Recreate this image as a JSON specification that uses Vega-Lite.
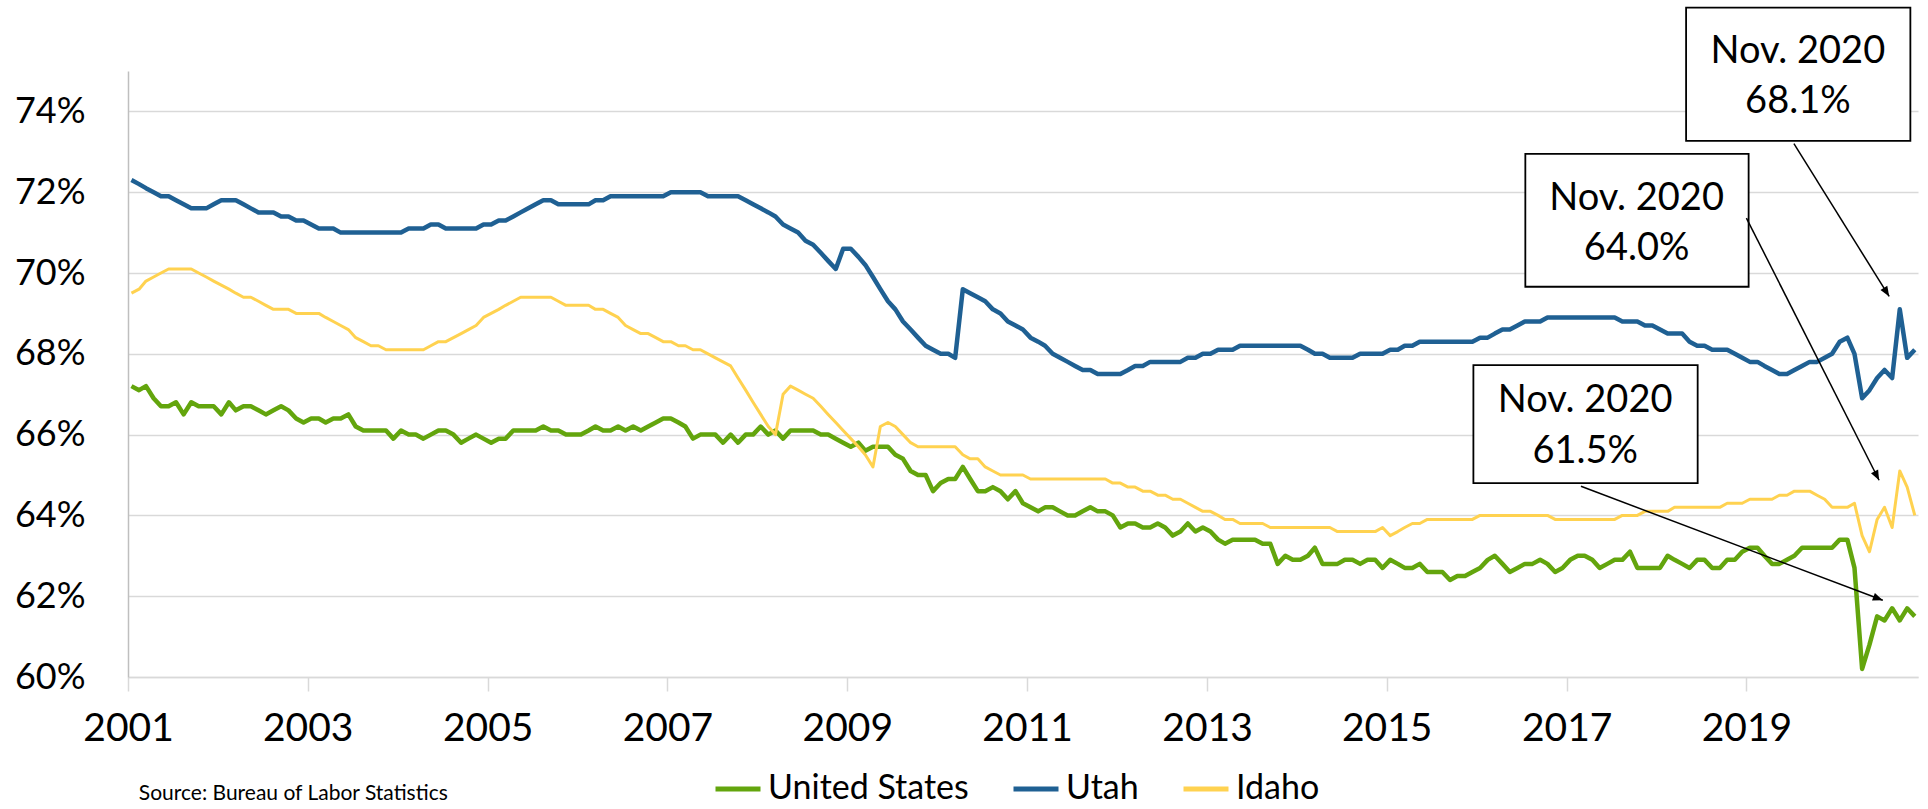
{
"$schema": "https://vega.github.io/schema/vega-lite/v6.json",
"width": 1790, "height": 606,
"autosize": {"type": "none"},
"padding": {"left": 128, "top": 71, "right": 10, "bottom": 132},
"background": "white",
"config": {"font": "Lato", "view": {"stroke": null}, "axis": {"labelFont": "Lato", "labelColor": "#000000"}, "legend": {"labelFont": "Lato"}},
"datasets": {
"recess": [{"d": "2001-03-15T00:00", "d2": "2001-11-16T00:00"}, {"d": "2007-11-13T00:00", "d2": "2009-06-14T00:00"}],
"boxes": [
 {"d": "2018-05-01T00:00", "d2": "2020-10-28T00:00", "v": 76.57, "v2": 73.27},
 {"d": "2016-07-17T00:00", "d2": "2019-01-10T00:00", "v": 72.95, "v2": 69.66},
 {"d": "2015-12-19T00:00", "d2": "2018-06-17T00:00", "v": 67.72, "v2": 64.80}],
"notes": [
 {"d": "2019-07-29T00:00", "v": 75.20, "t": "Nov. 2020"},
 {"d": "2019-07-29T00:00", "v": 73.96, "t": "68.1%"},
 {"d": "2017-10-12T00:00", "v": 71.56, "t": "Nov. 2020"},
 {"d": "2017-10-12T00:00", "v": 70.32, "t": "64.0%"},
 {"d": "2017-03-17T00:00", "v": 66.57, "t": "Nov. 2020"},
 {"d": "2017-03-17T00:00", "v": 65.29, "t": "61.5%"}],
"arrows": [
 {"id": "ut", "d": "2019-07-13T00:00", "v": 73.20, "d2": "2020-08-03T00:00", "v2": 69.42},
 {"id": "id", "d": "2019-01-01T00:00", "v": 71.36, "d2": "2020-06-23T00:00", "v2": 64.87},
 {"id": "us", "d": "2017-02-28T00:00", "v": 64.72, "d2": "2020-07-08T00:00", "v2": 61.90}],
"heads": [
 {"id": "ut", "d": "2020-08-03T00:00", "v": 69.42},
 {"id": "id", "d": "2020-06-23T00:00", "v": 64.87},
 {"id": "us", "d": "2020-07-08T00:00", "v": 61.90}],
"source": [{"d": "2001-02-14T00:00", "v": 56.95, "t": "Source: Bureau of Labor Statistics"}],
"lfpr": [
{"s":"United States","d":"2001-01-15T00:00","v":67.2},{"s":"United States","d":"2001-02-15T00:00","v":67.1},{"s":"United States","d":"2001-03-15T00:00","v":67.2},{"s":"United States","d":"2001-04-15T00:00","v":66.9},{"s":"United States","d":"2001-05-15T00:00","v":66.7},{"s":"United States","d":"2001-06-15T00:00","v":66.7},{"s":"United States","d":"2001-07-15T00:00","v":66.8},{"s":"United States","d":"2001-08-15T00:00","v":66.5},{"s":"United States","d":"2001-09-15T00:00","v":66.8},{"s":"United States","d":"2001-10-15T00:00","v":66.7},{"s":"United States","d":"2001-11-15T00:00","v":66.7},{"s":"United States","d":"2001-12-15T00:00","v":66.7},
{"s":"United States","d":"2002-01-15T00:00","v":66.5},{"s":"United States","d":"2002-02-15T00:00","v":66.8},{"s":"United States","d":"2002-03-15T00:00","v":66.6},{"s":"United States","d":"2002-04-15T00:00","v":66.7},{"s":"United States","d":"2002-05-15T00:00","v":66.7},{"s":"United States","d":"2002-06-15T00:00","v":66.6},{"s":"United States","d":"2002-07-15T00:00","v":66.5},{"s":"United States","d":"2002-08-15T00:00","v":66.6},{"s":"United States","d":"2002-09-15T00:00","v":66.7},{"s":"United States","d":"2002-10-15T00:00","v":66.6},{"s":"United States","d":"2002-11-15T00:00","v":66.4},{"s":"United States","d":"2002-12-15T00:00","v":66.3},
{"s":"United States","d":"2003-01-15T00:00","v":66.4},{"s":"United States","d":"2003-02-15T00:00","v":66.4},{"s":"United States","d":"2003-03-15T00:00","v":66.3},{"s":"United States","d":"2003-04-15T00:00","v":66.4},{"s":"United States","d":"2003-05-15T00:00","v":66.4},{"s":"United States","d":"2003-06-15T00:00","v":66.5},{"s":"United States","d":"2003-07-15T00:00","v":66.2},{"s":"United States","d":"2003-08-15T00:00","v":66.1},{"s":"United States","d":"2003-09-15T00:00","v":66.1},{"s":"United States","d":"2003-10-15T00:00","v":66.1},{"s":"United States","d":"2003-11-15T00:00","v":66.1},{"s":"United States","d":"2003-12-15T00:00","v":65.9},
{"s":"United States","d":"2004-01-15T00:00","v":66.1},{"s":"United States","d":"2004-02-15T00:00","v":66.0},{"s":"United States","d":"2004-03-15T00:00","v":66.0},{"s":"United States","d":"2004-04-15T00:00","v":65.9},{"s":"United States","d":"2004-05-15T00:00","v":66.0},{"s":"United States","d":"2004-06-15T00:00","v":66.1},{"s":"United States","d":"2004-07-15T00:00","v":66.1},{"s":"United States","d":"2004-08-15T00:00","v":66.0},{"s":"United States","d":"2004-09-15T00:00","v":65.8},{"s":"United States","d":"2004-10-15T00:00","v":65.9},{"s":"United States","d":"2004-11-15T00:00","v":66.0},{"s":"United States","d":"2004-12-15T00:00","v":65.9},
{"s":"United States","d":"2005-01-15T00:00","v":65.8},{"s":"United States","d":"2005-02-15T00:00","v":65.9},{"s":"United States","d":"2005-03-15T00:00","v":65.9},{"s":"United States","d":"2005-04-15T00:00","v":66.1},{"s":"United States","d":"2005-05-15T00:00","v":66.1},{"s":"United States","d":"2005-06-15T00:00","v":66.1},{"s":"United States","d":"2005-07-15T00:00","v":66.1},{"s":"United States","d":"2005-08-15T00:00","v":66.2},{"s":"United States","d":"2005-09-15T00:00","v":66.1},{"s":"United States","d":"2005-10-15T00:00","v":66.1},{"s":"United States","d":"2005-11-15T00:00","v":66.0},{"s":"United States","d":"2005-12-15T00:00","v":66.0},
{"s":"United States","d":"2006-01-15T00:00","v":66.0},{"s":"United States","d":"2006-02-15T00:00","v":66.1},{"s":"United States","d":"2006-03-15T00:00","v":66.2},{"s":"United States","d":"2006-04-15T00:00","v":66.1},{"s":"United States","d":"2006-05-15T00:00","v":66.1},{"s":"United States","d":"2006-06-15T00:00","v":66.2},{"s":"United States","d":"2006-07-15T00:00","v":66.1},{"s":"United States","d":"2006-08-15T00:00","v":66.2},{"s":"United States","d":"2006-09-15T00:00","v":66.1},{"s":"United States","d":"2006-10-15T00:00","v":66.2},{"s":"United States","d":"2006-11-15T00:00","v":66.3},{"s":"United States","d":"2006-12-15T00:00","v":66.4},
{"s":"United States","d":"2007-01-15T00:00","v":66.4},{"s":"United States","d":"2007-02-15T00:00","v":66.3},{"s":"United States","d":"2007-03-15T00:00","v":66.2},{"s":"United States","d":"2007-04-15T00:00","v":65.9},{"s":"United States","d":"2007-05-15T00:00","v":66.0},{"s":"United States","d":"2007-06-15T00:00","v":66.0},{"s":"United States","d":"2007-07-15T00:00","v":66.0},{"s":"United States","d":"2007-08-15T00:00","v":65.8},{"s":"United States","d":"2007-09-15T00:00","v":66.0},{"s":"United States","d":"2007-10-15T00:00","v":65.8},{"s":"United States","d":"2007-11-15T00:00","v":66.0},{"s":"United States","d":"2007-12-15T00:00","v":66.0},
{"s":"United States","d":"2008-01-15T00:00","v":66.2},{"s":"United States","d":"2008-02-15T00:00","v":66.0},{"s":"United States","d":"2008-03-15T00:00","v":66.1},{"s":"United States","d":"2008-04-15T00:00","v":65.9},{"s":"United States","d":"2008-05-15T00:00","v":66.1},{"s":"United States","d":"2008-06-15T00:00","v":66.1},{"s":"United States","d":"2008-07-15T00:00","v":66.1},{"s":"United States","d":"2008-08-15T00:00","v":66.1},{"s":"United States","d":"2008-09-15T00:00","v":66.0},{"s":"United States","d":"2008-10-15T00:00","v":66.0},{"s":"United States","d":"2008-11-15T00:00","v":65.9},{"s":"United States","d":"2008-12-15T00:00","v":65.8},
{"s":"United States","d":"2009-01-15T00:00","v":65.7},{"s":"United States","d":"2009-02-15T00:00","v":65.8},{"s":"United States","d":"2009-03-15T00:00","v":65.6},{"s":"United States","d":"2009-04-15T00:00","v":65.7},{"s":"United States","d":"2009-05-15T00:00","v":65.7},{"s":"United States","d":"2009-06-15T00:00","v":65.7},{"s":"United States","d":"2009-07-15T00:00","v":65.5},{"s":"United States","d":"2009-08-15T00:00","v":65.4},{"s":"United States","d":"2009-09-15T00:00","v":65.1},{"s":"United States","d":"2009-10-15T00:00","v":65.0},{"s":"United States","d":"2009-11-15T00:00","v":65.0},{"s":"United States","d":"2009-12-15T00:00","v":64.6},
{"s":"United States","d":"2010-01-15T00:00","v":64.8},{"s":"United States","d":"2010-02-15T00:00","v":64.9},{"s":"United States","d":"2010-03-15T00:00","v":64.9},{"s":"United States","d":"2010-04-15T00:00","v":65.2},{"s":"United States","d":"2010-05-15T00:00","v":64.9},{"s":"United States","d":"2010-06-15T00:00","v":64.6},{"s":"United States","d":"2010-07-15T00:00","v":64.6},{"s":"United States","d":"2010-08-15T00:00","v":64.7},{"s":"United States","d":"2010-09-15T00:00","v":64.6},{"s":"United States","d":"2010-10-15T00:00","v":64.4},{"s":"United States","d":"2010-11-15T00:00","v":64.6},{"s":"United States","d":"2010-12-15T00:00","v":64.3},
{"s":"United States","d":"2011-01-15T00:00","v":64.2},{"s":"United States","d":"2011-02-15T00:00","v":64.1},{"s":"United States","d":"2011-03-15T00:00","v":64.2},{"s":"United States","d":"2011-04-15T00:00","v":64.2},{"s":"United States","d":"2011-05-15T00:00","v":64.1},{"s":"United States","d":"2011-06-15T00:00","v":64.0},{"s":"United States","d":"2011-07-15T00:00","v":64.0},{"s":"United States","d":"2011-08-15T00:00","v":64.1},{"s":"United States","d":"2011-09-15T00:00","v":64.2},{"s":"United States","d":"2011-10-15T00:00","v":64.1},{"s":"United States","d":"2011-11-15T00:00","v":64.1},{"s":"United States","d":"2011-12-15T00:00","v":64.0},
{"s":"United States","d":"2012-01-15T00:00","v":63.7},{"s":"United States","d":"2012-02-15T00:00","v":63.8},{"s":"United States","d":"2012-03-15T00:00","v":63.8},{"s":"United States","d":"2012-04-15T00:00","v":63.7},{"s":"United States","d":"2012-05-15T00:00","v":63.7},{"s":"United States","d":"2012-06-15T00:00","v":63.8},{"s":"United States","d":"2012-07-15T00:00","v":63.7},{"s":"United States","d":"2012-08-15T00:00","v":63.5},{"s":"United States","d":"2012-09-15T00:00","v":63.6},{"s":"United States","d":"2012-10-15T00:00","v":63.8},{"s":"United States","d":"2012-11-15T00:00","v":63.6},{"s":"United States","d":"2012-12-15T00:00","v":63.7},
{"s":"United States","d":"2013-01-15T00:00","v":63.6},{"s":"United States","d":"2013-02-15T00:00","v":63.4},{"s":"United States","d":"2013-03-15T00:00","v":63.3},{"s":"United States","d":"2013-04-15T00:00","v":63.4},{"s":"United States","d":"2013-05-15T00:00","v":63.4},{"s":"United States","d":"2013-06-15T00:00","v":63.4},{"s":"United States","d":"2013-07-15T00:00","v":63.4},{"s":"United States","d":"2013-08-15T00:00","v":63.3},{"s":"United States","d":"2013-09-15T00:00","v":63.3},{"s":"United States","d":"2013-10-15T00:00","v":62.8},{"s":"United States","d":"2013-11-15T00:00","v":63.0},{"s":"United States","d":"2013-12-15T00:00","v":62.9},
{"s":"United States","d":"2014-01-15T00:00","v":62.9},{"s":"United States","d":"2014-02-15T00:00","v":63.0},{"s":"United States","d":"2014-03-15T00:00","v":63.2},{"s":"United States","d":"2014-04-15T00:00","v":62.8},{"s":"United States","d":"2014-05-15T00:00","v":62.8},{"s":"United States","d":"2014-06-15T00:00","v":62.8},{"s":"United States","d":"2014-07-15T00:00","v":62.9},{"s":"United States","d":"2014-08-15T00:00","v":62.9},{"s":"United States","d":"2014-09-15T00:00","v":62.8},{"s":"United States","d":"2014-10-15T00:00","v":62.9},{"s":"United States","d":"2014-11-15T00:00","v":62.9},{"s":"United States","d":"2014-12-15T00:00","v":62.7},
{"s":"United States","d":"2015-01-15T00:00","v":62.9},{"s":"United States","d":"2015-02-15T00:00","v":62.8},{"s":"United States","d":"2015-03-15T00:00","v":62.7},{"s":"United States","d":"2015-04-15T00:00","v":62.7},{"s":"United States","d":"2015-05-15T00:00","v":62.8},{"s":"United States","d":"2015-06-15T00:00","v":62.6},{"s":"United States","d":"2015-07-15T00:00","v":62.6},{"s":"United States","d":"2015-08-15T00:00","v":62.6},{"s":"United States","d":"2015-09-15T00:00","v":62.4},{"s":"United States","d":"2015-10-15T00:00","v":62.5},{"s":"United States","d":"2015-11-15T00:00","v":62.5},{"s":"United States","d":"2015-12-15T00:00","v":62.6},
{"s":"United States","d":"2016-01-15T00:00","v":62.7},{"s":"United States","d":"2016-02-15T00:00","v":62.9},{"s":"United States","d":"2016-03-15T00:00","v":63.0},{"s":"United States","d":"2016-04-15T00:00","v":62.8},{"s":"United States","d":"2016-05-15T00:00","v":62.6},{"s":"United States","d":"2016-06-15T00:00","v":62.7},{"s":"United States","d":"2016-07-15T00:00","v":62.8},{"s":"United States","d":"2016-08-15T00:00","v":62.8},{"s":"United States","d":"2016-09-15T00:00","v":62.9},{"s":"United States","d":"2016-10-15T00:00","v":62.8},{"s":"United States","d":"2016-11-15T00:00","v":62.6},{"s":"United States","d":"2016-12-15T00:00","v":62.7},
{"s":"United States","d":"2017-01-15T00:00","v":62.9},{"s":"United States","d":"2017-02-15T00:00","v":63.0},{"s":"United States","d":"2017-03-15T00:00","v":63.0},{"s":"United States","d":"2017-04-15T00:00","v":62.9},{"s":"United States","d":"2017-05-15T00:00","v":62.7},{"s":"United States","d":"2017-06-15T00:00","v":62.8},{"s":"United States","d":"2017-07-15T00:00","v":62.9},{"s":"United States","d":"2017-08-15T00:00","v":62.9},{"s":"United States","d":"2017-09-15T00:00","v":63.1},{"s":"United States","d":"2017-10-15T00:00","v":62.7},{"s":"United States","d":"2017-11-15T00:00","v":62.7},{"s":"United States","d":"2017-12-15T00:00","v":62.7},
{"s":"United States","d":"2018-01-15T00:00","v":62.7},{"s":"United States","d":"2018-02-15T00:00","v":63.0},{"s":"United States","d":"2018-03-15T00:00","v":62.9},{"s":"United States","d":"2018-04-15T00:00","v":62.8},{"s":"United States","d":"2018-05-15T00:00","v":62.7},{"s":"United States","d":"2018-06-15T00:00","v":62.9},{"s":"United States","d":"2018-07-15T00:00","v":62.9},{"s":"United States","d":"2018-08-15T00:00","v":62.7},{"s":"United States","d":"2018-09-15T00:00","v":62.7},{"s":"United States","d":"2018-10-15T00:00","v":62.9},{"s":"United States","d":"2018-11-15T00:00","v":62.9},{"s":"United States","d":"2018-12-15T00:00","v":63.1},
{"s":"United States","d":"2019-01-15T00:00","v":63.2},{"s":"United States","d":"2019-02-15T00:00","v":63.2},{"s":"United States","d":"2019-03-15T00:00","v":63.0},{"s":"United States","d":"2019-04-15T00:00","v":62.8},{"s":"United States","d":"2019-05-15T00:00","v":62.8},{"s":"United States","d":"2019-06-15T00:00","v":62.9},{"s":"United States","d":"2019-07-15T00:00","v":63.0},{"s":"United States","d":"2019-08-15T00:00","v":63.2},{"s":"United States","d":"2019-09-15T00:00","v":63.2},{"s":"United States","d":"2019-10-15T00:00","v":63.2},{"s":"United States","d":"2019-11-15T00:00","v":63.2},{"s":"United States","d":"2019-12-15T00:00","v":63.2},
{"s":"United States","d":"2020-01-15T00:00","v":63.4},{"s":"United States","d":"2020-02-15T00:00","v":63.4},{"s":"United States","d":"2020-03-15T00:00","v":62.7},{"s":"United States","d":"2020-04-15T00:00","v":60.2},{"s":"United States","d":"2020-05-15T00:00","v":60.8},{"s":"United States","d":"2020-06-15T00:00","v":61.5},{"s":"United States","d":"2020-07-15T00:00","v":61.4},{"s":"United States","d":"2020-08-15T00:00","v":61.7},{"s":"United States","d":"2020-09-15T00:00","v":61.4},{"s":"United States","d":"2020-10-15T00:00","v":61.7},{"s":"United States","d":"2020-11-15T00:00","v":61.5},
{"s":"Utah","d":"2001-01-15T00:00","v":72.3},{"s":"Utah","d":"2001-02-15T00:00","v":72.2},{"s":"Utah","d":"2001-03-15T00:00","v":72.1},{"s":"Utah","d":"2001-04-15T00:00","v":72.0},{"s":"Utah","d":"2001-05-15T00:00","v":71.9},{"s":"Utah","d":"2001-06-15T00:00","v":71.9},{"s":"Utah","d":"2001-07-15T00:00","v":71.8},{"s":"Utah","d":"2001-08-15T00:00","v":71.7},{"s":"Utah","d":"2001-09-15T00:00","v":71.6},{"s":"Utah","d":"2001-10-15T00:00","v":71.6},{"s":"Utah","d":"2001-11-15T00:00","v":71.6},{"s":"Utah","d":"2001-12-15T00:00","v":71.7},
{"s":"Utah","d":"2002-01-15T00:00","v":71.8},{"s":"Utah","d":"2002-02-15T00:00","v":71.8},{"s":"Utah","d":"2002-03-15T00:00","v":71.8},{"s":"Utah","d":"2002-04-15T00:00","v":71.7},{"s":"Utah","d":"2002-05-15T00:00","v":71.6},{"s":"Utah","d":"2002-06-15T00:00","v":71.5},{"s":"Utah","d":"2002-07-15T00:00","v":71.5},{"s":"Utah","d":"2002-08-15T00:00","v":71.5},{"s":"Utah","d":"2002-09-15T00:00","v":71.4},{"s":"Utah","d":"2002-10-15T00:00","v":71.4},{"s":"Utah","d":"2002-11-15T00:00","v":71.3},{"s":"Utah","d":"2002-12-15T00:00","v":71.3},
{"s":"Utah","d":"2003-01-15T00:00","v":71.2},{"s":"Utah","d":"2003-02-15T00:00","v":71.1},{"s":"Utah","d":"2003-03-15T00:00","v":71.1},{"s":"Utah","d":"2003-04-15T00:00","v":71.1},{"s":"Utah","d":"2003-05-15T00:00","v":71.0},{"s":"Utah","d":"2003-06-15T00:00","v":71.0},{"s":"Utah","d":"2003-07-15T00:00","v":71.0},{"s":"Utah","d":"2003-08-15T00:00","v":71.0},{"s":"Utah","d":"2003-09-15T00:00","v":71.0},{"s":"Utah","d":"2003-10-15T00:00","v":71.0},{"s":"Utah","d":"2003-11-15T00:00","v":71.0},{"s":"Utah","d":"2003-12-15T00:00","v":71.0},
{"s":"Utah","d":"2004-01-15T00:00","v":71.0},{"s":"Utah","d":"2004-02-15T00:00","v":71.1},{"s":"Utah","d":"2004-03-15T00:00","v":71.1},{"s":"Utah","d":"2004-04-15T00:00","v":71.1},{"s":"Utah","d":"2004-05-15T00:00","v":71.2},{"s":"Utah","d":"2004-06-15T00:00","v":71.2},{"s":"Utah","d":"2004-07-15T00:00","v":71.1},{"s":"Utah","d":"2004-08-15T00:00","v":71.1},{"s":"Utah","d":"2004-09-15T00:00","v":71.1},{"s":"Utah","d":"2004-10-15T00:00","v":71.1},{"s":"Utah","d":"2004-11-15T00:00","v":71.1},{"s":"Utah","d":"2004-12-15T00:00","v":71.2},
{"s":"Utah","d":"2005-01-15T00:00","v":71.2},{"s":"Utah","d":"2005-02-15T00:00","v":71.3},{"s":"Utah","d":"2005-03-15T00:00","v":71.3},{"s":"Utah","d":"2005-04-15T00:00","v":71.4},{"s":"Utah","d":"2005-05-15T00:00","v":71.5},{"s":"Utah","d":"2005-06-15T00:00","v":71.6},{"s":"Utah","d":"2005-07-15T00:00","v":71.7},{"s":"Utah","d":"2005-08-15T00:00","v":71.8},{"s":"Utah","d":"2005-09-15T00:00","v":71.8},{"s":"Utah","d":"2005-10-15T00:00","v":71.7},{"s":"Utah","d":"2005-11-15T00:00","v":71.7},{"s":"Utah","d":"2005-12-15T00:00","v":71.7},
{"s":"Utah","d":"2006-01-15T00:00","v":71.7},{"s":"Utah","d":"2006-02-15T00:00","v":71.7},{"s":"Utah","d":"2006-03-15T00:00","v":71.8},{"s":"Utah","d":"2006-04-15T00:00","v":71.8},{"s":"Utah","d":"2006-05-15T00:00","v":71.9},{"s":"Utah","d":"2006-06-15T00:00","v":71.9},{"s":"Utah","d":"2006-07-15T00:00","v":71.9},{"s":"Utah","d":"2006-08-15T00:00","v":71.9},{"s":"Utah","d":"2006-09-15T00:00","v":71.9},{"s":"Utah","d":"2006-10-15T00:00","v":71.9},{"s":"Utah","d":"2006-11-15T00:00","v":71.9},{"s":"Utah","d":"2006-12-15T00:00","v":71.9},
{"s":"Utah","d":"2007-01-15T00:00","v":72.0},{"s":"Utah","d":"2007-02-15T00:00","v":72.0},{"s":"Utah","d":"2007-03-15T00:00","v":72.0},{"s":"Utah","d":"2007-04-15T00:00","v":72.0},{"s":"Utah","d":"2007-05-15T00:00","v":72.0},{"s":"Utah","d":"2007-06-15T00:00","v":71.9},{"s":"Utah","d":"2007-07-15T00:00","v":71.9},{"s":"Utah","d":"2007-08-15T00:00","v":71.9},{"s":"Utah","d":"2007-09-15T00:00","v":71.9},{"s":"Utah","d":"2007-10-15T00:00","v":71.9},{"s":"Utah","d":"2007-11-15T00:00","v":71.8},{"s":"Utah","d":"2007-12-15T00:00","v":71.7},
{"s":"Utah","d":"2008-01-15T00:00","v":71.6},{"s":"Utah","d":"2008-02-15T00:00","v":71.5},{"s":"Utah","d":"2008-03-15T00:00","v":71.4},{"s":"Utah","d":"2008-04-15T00:00","v":71.2},{"s":"Utah","d":"2008-05-15T00:00","v":71.1},{"s":"Utah","d":"2008-06-15T00:00","v":71.0},{"s":"Utah","d":"2008-07-15T00:00","v":70.8},{"s":"Utah","d":"2008-08-15T00:00","v":70.7},{"s":"Utah","d":"2008-09-15T00:00","v":70.5},{"s":"Utah","d":"2008-10-15T00:00","v":70.3},{"s":"Utah","d":"2008-11-15T00:00","v":70.1},{"s":"Utah","d":"2008-12-15T00:00","v":70.6},
{"s":"Utah","d":"2009-01-15T00:00","v":70.6},{"s":"Utah","d":"2009-02-15T00:00","v":70.4},{"s":"Utah","d":"2009-03-15T00:00","v":70.2},{"s":"Utah","d":"2009-04-15T00:00","v":69.9},{"s":"Utah","d":"2009-05-15T00:00","v":69.6},{"s":"Utah","d":"2009-06-15T00:00","v":69.3},{"s":"Utah","d":"2009-07-15T00:00","v":69.1},{"s":"Utah","d":"2009-08-15T00:00","v":68.8},{"s":"Utah","d":"2009-09-15T00:00","v":68.6},{"s":"Utah","d":"2009-10-15T00:00","v":68.4},{"s":"Utah","d":"2009-11-15T00:00","v":68.2},{"s":"Utah","d":"2009-12-15T00:00","v":68.1},
{"s":"Utah","d":"2010-01-15T00:00","v":68.0},{"s":"Utah","d":"2010-02-15T00:00","v":68.0},{"s":"Utah","d":"2010-03-15T00:00","v":67.9},{"s":"Utah","d":"2010-04-15T00:00","v":69.6},{"s":"Utah","d":"2010-05-15T00:00","v":69.5},{"s":"Utah","d":"2010-06-15T00:00","v":69.4},{"s":"Utah","d":"2010-07-15T00:00","v":69.3},{"s":"Utah","d":"2010-08-15T00:00","v":69.1},{"s":"Utah","d":"2010-09-15T00:00","v":69.0},{"s":"Utah","d":"2010-10-15T00:00","v":68.8},{"s":"Utah","d":"2010-11-15T00:00","v":68.7},{"s":"Utah","d":"2010-12-15T00:00","v":68.6},
{"s":"Utah","d":"2011-01-15T00:00","v":68.4},{"s":"Utah","d":"2011-02-15T00:00","v":68.3},{"s":"Utah","d":"2011-03-15T00:00","v":68.2},{"s":"Utah","d":"2011-04-15T00:00","v":68.0},{"s":"Utah","d":"2011-05-15T00:00","v":67.9},{"s":"Utah","d":"2011-06-15T00:00","v":67.8},{"s":"Utah","d":"2011-07-15T00:00","v":67.7},{"s":"Utah","d":"2011-08-15T00:00","v":67.6},{"s":"Utah","d":"2011-09-15T00:00","v":67.6},{"s":"Utah","d":"2011-10-15T00:00","v":67.5},{"s":"Utah","d":"2011-11-15T00:00","v":67.5},{"s":"Utah","d":"2011-12-15T00:00","v":67.5},
{"s":"Utah","d":"2012-01-15T00:00","v":67.5},{"s":"Utah","d":"2012-02-15T00:00","v":67.6},{"s":"Utah","d":"2012-03-15T00:00","v":67.7},{"s":"Utah","d":"2012-04-15T00:00","v":67.7},{"s":"Utah","d":"2012-05-15T00:00","v":67.8},{"s":"Utah","d":"2012-06-15T00:00","v":67.8},{"s":"Utah","d":"2012-07-15T00:00","v":67.8},{"s":"Utah","d":"2012-08-15T00:00","v":67.8},{"s":"Utah","d":"2012-09-15T00:00","v":67.8},{"s":"Utah","d":"2012-10-15T00:00","v":67.9},{"s":"Utah","d":"2012-11-15T00:00","v":67.9},{"s":"Utah","d":"2012-12-15T00:00","v":68.0},
{"s":"Utah","d":"2013-01-15T00:00","v":68.0},{"s":"Utah","d":"2013-02-15T00:00","v":68.1},{"s":"Utah","d":"2013-03-15T00:00","v":68.1},{"s":"Utah","d":"2013-04-15T00:00","v":68.1},{"s":"Utah","d":"2013-05-15T00:00","v":68.2},{"s":"Utah","d":"2013-06-15T00:00","v":68.2},{"s":"Utah","d":"2013-07-15T00:00","v":68.2},{"s":"Utah","d":"2013-08-15T00:00","v":68.2},{"s":"Utah","d":"2013-09-15T00:00","v":68.2},{"s":"Utah","d":"2013-10-15T00:00","v":68.2},{"s":"Utah","d":"2013-11-15T00:00","v":68.2},{"s":"Utah","d":"2013-12-15T00:00","v":68.2},
{"s":"Utah","d":"2014-01-15T00:00","v":68.2},{"s":"Utah","d":"2014-02-15T00:00","v":68.1},{"s":"Utah","d":"2014-03-15T00:00","v":68.0},{"s":"Utah","d":"2014-04-15T00:00","v":68.0},{"s":"Utah","d":"2014-05-15T00:00","v":67.9},{"s":"Utah","d":"2014-06-15T00:00","v":67.9},{"s":"Utah","d":"2014-07-15T00:00","v":67.9},{"s":"Utah","d":"2014-08-15T00:00","v":67.9},{"s":"Utah","d":"2014-09-15T00:00","v":68.0},{"s":"Utah","d":"2014-10-15T00:00","v":68.0},{"s":"Utah","d":"2014-11-15T00:00","v":68.0},{"s":"Utah","d":"2014-12-15T00:00","v":68.0},
{"s":"Utah","d":"2015-01-15T00:00","v":68.1},{"s":"Utah","d":"2015-02-15T00:00","v":68.1},{"s":"Utah","d":"2015-03-15T00:00","v":68.2},{"s":"Utah","d":"2015-04-15T00:00","v":68.2},{"s":"Utah","d":"2015-05-15T00:00","v":68.3},{"s":"Utah","d":"2015-06-15T00:00","v":68.3},{"s":"Utah","d":"2015-07-15T00:00","v":68.3},{"s":"Utah","d":"2015-08-15T00:00","v":68.3},{"s":"Utah","d":"2015-09-15T00:00","v":68.3},{"s":"Utah","d":"2015-10-15T00:00","v":68.3},{"s":"Utah","d":"2015-11-15T00:00","v":68.3},{"s":"Utah","d":"2015-12-15T00:00","v":68.3},
{"s":"Utah","d":"2016-01-15T00:00","v":68.4},{"s":"Utah","d":"2016-02-15T00:00","v":68.4},{"s":"Utah","d":"2016-03-15T00:00","v":68.5},{"s":"Utah","d":"2016-04-15T00:00","v":68.6},{"s":"Utah","d":"2016-05-15T00:00","v":68.6},{"s":"Utah","d":"2016-06-15T00:00","v":68.7},{"s":"Utah","d":"2016-07-15T00:00","v":68.8},{"s":"Utah","d":"2016-08-15T00:00","v":68.8},{"s":"Utah","d":"2016-09-15T00:00","v":68.8},{"s":"Utah","d":"2016-10-15T00:00","v":68.9},{"s":"Utah","d":"2016-11-15T00:00","v":68.9},{"s":"Utah","d":"2016-12-15T00:00","v":68.9},
{"s":"Utah","d":"2017-01-15T00:00","v":68.9},{"s":"Utah","d":"2017-02-15T00:00","v":68.9},{"s":"Utah","d":"2017-03-15T00:00","v":68.9},{"s":"Utah","d":"2017-04-15T00:00","v":68.9},{"s":"Utah","d":"2017-05-15T00:00","v":68.9},{"s":"Utah","d":"2017-06-15T00:00","v":68.9},{"s":"Utah","d":"2017-07-15T00:00","v":68.9},{"s":"Utah","d":"2017-08-15T00:00","v":68.8},{"s":"Utah","d":"2017-09-15T00:00","v":68.8},{"s":"Utah","d":"2017-10-15T00:00","v":68.8},{"s":"Utah","d":"2017-11-15T00:00","v":68.7},{"s":"Utah","d":"2017-12-15T00:00","v":68.7},
{"s":"Utah","d":"2018-01-15T00:00","v":68.6},{"s":"Utah","d":"2018-02-15T00:00","v":68.5},{"s":"Utah","d":"2018-03-15T00:00","v":68.5},{"s":"Utah","d":"2018-04-15T00:00","v":68.5},{"s":"Utah","d":"2018-05-15T00:00","v":68.3},{"s":"Utah","d":"2018-06-15T00:00","v":68.2},{"s":"Utah","d":"2018-07-15T00:00","v":68.2},{"s":"Utah","d":"2018-08-15T00:00","v":68.1},{"s":"Utah","d":"2018-09-15T00:00","v":68.1},{"s":"Utah","d":"2018-10-15T00:00","v":68.1},{"s":"Utah","d":"2018-11-15T00:00","v":68.0},{"s":"Utah","d":"2018-12-15T00:00","v":67.9},
{"s":"Utah","d":"2019-01-15T00:00","v":67.8},{"s":"Utah","d":"2019-02-15T00:00","v":67.8},{"s":"Utah","d":"2019-03-15T00:00","v":67.7},{"s":"Utah","d":"2019-04-15T00:00","v":67.6},{"s":"Utah","d":"2019-05-15T00:00","v":67.5},{"s":"Utah","d":"2019-06-15T00:00","v":67.5},{"s":"Utah","d":"2019-07-15T00:00","v":67.6},{"s":"Utah","d":"2019-08-15T00:00","v":67.7},{"s":"Utah","d":"2019-09-15T00:00","v":67.8},{"s":"Utah","d":"2019-10-15T00:00","v":67.8},{"s":"Utah","d":"2019-11-15T00:00","v":67.9},{"s":"Utah","d":"2019-12-15T00:00","v":68.0},
{"s":"Utah","d":"2020-01-15T00:00","v":68.3},{"s":"Utah","d":"2020-02-15T00:00","v":68.4},{"s":"Utah","d":"2020-03-15T00:00","v":68.0},{"s":"Utah","d":"2020-04-15T00:00","v":66.9},{"s":"Utah","d":"2020-05-15T00:00","v":67.1},{"s":"Utah","d":"2020-06-15T00:00","v":67.4},{"s":"Utah","d":"2020-07-15T00:00","v":67.6},{"s":"Utah","d":"2020-08-15T00:00","v":67.4},{"s":"Utah","d":"2020-09-15T00:00","v":69.1},{"s":"Utah","d":"2020-10-15T00:00","v":67.9},{"s":"Utah","d":"2020-11-15T00:00","v":68.1},
{"s":"Idaho","d":"2001-01-15T00:00","v":69.5},{"s":"Idaho","d":"2001-02-15T00:00","v":69.6},{"s":"Idaho","d":"2001-03-15T00:00","v":69.8},{"s":"Idaho","d":"2001-04-15T00:00","v":69.9},{"s":"Idaho","d":"2001-05-15T00:00","v":70.0},{"s":"Idaho","d":"2001-06-15T00:00","v":70.1},{"s":"Idaho","d":"2001-07-15T00:00","v":70.1},{"s":"Idaho","d":"2001-08-15T00:00","v":70.1},{"s":"Idaho","d":"2001-09-15T00:00","v":70.1},{"s":"Idaho","d":"2001-10-15T00:00","v":70.0},{"s":"Idaho","d":"2001-11-15T00:00","v":69.9},{"s":"Idaho","d":"2001-12-15T00:00","v":69.8},
{"s":"Idaho","d":"2002-01-15T00:00","v":69.7},{"s":"Idaho","d":"2002-02-15T00:00","v":69.6},{"s":"Idaho","d":"2002-03-15T00:00","v":69.5},{"s":"Idaho","d":"2002-04-15T00:00","v":69.4},{"s":"Idaho","d":"2002-05-15T00:00","v":69.4},{"s":"Idaho","d":"2002-06-15T00:00","v":69.3},{"s":"Idaho","d":"2002-07-15T00:00","v":69.2},{"s":"Idaho","d":"2002-08-15T00:00","v":69.1},{"s":"Idaho","d":"2002-09-15T00:00","v":69.1},{"s":"Idaho","d":"2002-10-15T00:00","v":69.1},{"s":"Idaho","d":"2002-11-15T00:00","v":69.0},{"s":"Idaho","d":"2002-12-15T00:00","v":69.0},
{"s":"Idaho","d":"2003-01-15T00:00","v":69.0},{"s":"Idaho","d":"2003-02-15T00:00","v":69.0},{"s":"Idaho","d":"2003-03-15T00:00","v":68.9},{"s":"Idaho","d":"2003-04-15T00:00","v":68.8},{"s":"Idaho","d":"2003-05-15T00:00","v":68.7},{"s":"Idaho","d":"2003-06-15T00:00","v":68.6},{"s":"Idaho","d":"2003-07-15T00:00","v":68.4},{"s":"Idaho","d":"2003-08-15T00:00","v":68.3},{"s":"Idaho","d":"2003-09-15T00:00","v":68.2},{"s":"Idaho","d":"2003-10-15T00:00","v":68.2},{"s":"Idaho","d":"2003-11-15T00:00","v":68.1},{"s":"Idaho","d":"2003-12-15T00:00","v":68.1},
{"s":"Idaho","d":"2004-01-15T00:00","v":68.1},{"s":"Idaho","d":"2004-02-15T00:00","v":68.1},{"s":"Idaho","d":"2004-03-15T00:00","v":68.1},{"s":"Idaho","d":"2004-04-15T00:00","v":68.1},{"s":"Idaho","d":"2004-05-15T00:00","v":68.2},{"s":"Idaho","d":"2004-06-15T00:00","v":68.3},{"s":"Idaho","d":"2004-07-15T00:00","v":68.3},{"s":"Idaho","d":"2004-08-15T00:00","v":68.4},{"s":"Idaho","d":"2004-09-15T00:00","v":68.5},{"s":"Idaho","d":"2004-10-15T00:00","v":68.6},{"s":"Idaho","d":"2004-11-15T00:00","v":68.7},{"s":"Idaho","d":"2004-12-15T00:00","v":68.9},
{"s":"Idaho","d":"2005-01-15T00:00","v":69.0},{"s":"Idaho","d":"2005-02-15T00:00","v":69.1},{"s":"Idaho","d":"2005-03-15T00:00","v":69.2},{"s":"Idaho","d":"2005-04-15T00:00","v":69.3},{"s":"Idaho","d":"2005-05-15T00:00","v":69.4},{"s":"Idaho","d":"2005-06-15T00:00","v":69.4},{"s":"Idaho","d":"2005-07-15T00:00","v":69.4},{"s":"Idaho","d":"2005-08-15T00:00","v":69.4},{"s":"Idaho","d":"2005-09-15T00:00","v":69.4},{"s":"Idaho","d":"2005-10-15T00:00","v":69.3},{"s":"Idaho","d":"2005-11-15T00:00","v":69.2},{"s":"Idaho","d":"2005-12-15T00:00","v":69.2},
{"s":"Idaho","d":"2006-01-15T00:00","v":69.2},{"s":"Idaho","d":"2006-02-15T00:00","v":69.2},{"s":"Idaho","d":"2006-03-15T00:00","v":69.1},{"s":"Idaho","d":"2006-04-15T00:00","v":69.1},{"s":"Idaho","d":"2006-05-15T00:00","v":69.0},{"s":"Idaho","d":"2006-06-15T00:00","v":68.9},{"s":"Idaho","d":"2006-07-15T00:00","v":68.7},{"s":"Idaho","d":"2006-08-15T00:00","v":68.6},{"s":"Idaho","d":"2006-09-15T00:00","v":68.5},{"s":"Idaho","d":"2006-10-15T00:00","v":68.5},{"s":"Idaho","d":"2006-11-15T00:00","v":68.4},{"s":"Idaho","d":"2006-12-15T00:00","v":68.3},
{"s":"Idaho","d":"2007-01-15T00:00","v":68.3},{"s":"Idaho","d":"2007-02-15T00:00","v":68.2},{"s":"Idaho","d":"2007-03-15T00:00","v":68.2},{"s":"Idaho","d":"2007-04-15T00:00","v":68.1},{"s":"Idaho","d":"2007-05-15T00:00","v":68.1},{"s":"Idaho","d":"2007-06-15T00:00","v":68.0},{"s":"Idaho","d":"2007-07-15T00:00","v":67.9},{"s":"Idaho","d":"2007-08-15T00:00","v":67.8},{"s":"Idaho","d":"2007-09-15T00:00","v":67.7},{"s":"Idaho","d":"2007-10-15T00:00","v":67.4},{"s":"Idaho","d":"2007-11-15T00:00","v":67.1},{"s":"Idaho","d":"2007-12-15T00:00","v":66.8},
{"s":"Idaho","d":"2008-01-15T00:00","v":66.5},{"s":"Idaho","d":"2008-02-15T00:00","v":66.2},{"s":"Idaho","d":"2008-03-15T00:00","v":66.0},{"s":"Idaho","d":"2008-04-15T00:00","v":67.0},{"s":"Idaho","d":"2008-05-15T00:00","v":67.2},{"s":"Idaho","d":"2008-06-15T00:00","v":67.1},{"s":"Idaho","d":"2008-07-15T00:00","v":67.0},{"s":"Idaho","d":"2008-08-15T00:00","v":66.9},{"s":"Idaho","d":"2008-09-15T00:00","v":66.7},{"s":"Idaho","d":"2008-10-15T00:00","v":66.5},{"s":"Idaho","d":"2008-11-15T00:00","v":66.3},{"s":"Idaho","d":"2008-12-15T00:00","v":66.1},
{"s":"Idaho","d":"2009-01-15T00:00","v":65.9},{"s":"Idaho","d":"2009-02-15T00:00","v":65.7},{"s":"Idaho","d":"2009-03-15T00:00","v":65.5},{"s":"Idaho","d":"2009-04-15T00:00","v":65.2},{"s":"Idaho","d":"2009-05-15T00:00","v":66.2},{"s":"Idaho","d":"2009-06-15T00:00","v":66.3},{"s":"Idaho","d":"2009-07-15T00:00","v":66.2},{"s":"Idaho","d":"2009-08-15T00:00","v":66.0},{"s":"Idaho","d":"2009-09-15T00:00","v":65.8},{"s":"Idaho","d":"2009-10-15T00:00","v":65.7},{"s":"Idaho","d":"2009-11-15T00:00","v":65.7},{"s":"Idaho","d":"2009-12-15T00:00","v":65.7},
{"s":"Idaho","d":"2010-01-15T00:00","v":65.7},{"s":"Idaho","d":"2010-02-15T00:00","v":65.7},{"s":"Idaho","d":"2010-03-15T00:00","v":65.7},{"s":"Idaho","d":"2010-04-15T00:00","v":65.5},{"s":"Idaho","d":"2010-05-15T00:00","v":65.4},{"s":"Idaho","d":"2010-06-15T00:00","v":65.4},{"s":"Idaho","d":"2010-07-15T00:00","v":65.2},{"s":"Idaho","d":"2010-08-15T00:00","v":65.1},{"s":"Idaho","d":"2010-09-15T00:00","v":65.0},{"s":"Idaho","d":"2010-10-15T00:00","v":65.0},{"s":"Idaho","d":"2010-11-15T00:00","v":65.0},{"s":"Idaho","d":"2010-12-15T00:00","v":65.0},
{"s":"Idaho","d":"2011-01-15T00:00","v":64.9},{"s":"Idaho","d":"2011-02-15T00:00","v":64.9},{"s":"Idaho","d":"2011-03-15T00:00","v":64.9},{"s":"Idaho","d":"2011-04-15T00:00","v":64.9},{"s":"Idaho","d":"2011-05-15T00:00","v":64.9},{"s":"Idaho","d":"2011-06-15T00:00","v":64.9},{"s":"Idaho","d":"2011-07-15T00:00","v":64.9},{"s":"Idaho","d":"2011-08-15T00:00","v":64.9},{"s":"Idaho","d":"2011-09-15T00:00","v":64.9},{"s":"Idaho","d":"2011-10-15T00:00","v":64.9},{"s":"Idaho","d":"2011-11-15T00:00","v":64.9},{"s":"Idaho","d":"2011-12-15T00:00","v":64.8},
{"s":"Idaho","d":"2012-01-15T00:00","v":64.8},{"s":"Idaho","d":"2012-02-15T00:00","v":64.7},{"s":"Idaho","d":"2012-03-15T00:00","v":64.7},{"s":"Idaho","d":"2012-04-15T00:00","v":64.6},{"s":"Idaho","d":"2012-05-15T00:00","v":64.6},{"s":"Idaho","d":"2012-06-15T00:00","v":64.5},{"s":"Idaho","d":"2012-07-15T00:00","v":64.5},{"s":"Idaho","d":"2012-08-15T00:00","v":64.4},{"s":"Idaho","d":"2012-09-15T00:00","v":64.4},{"s":"Idaho","d":"2012-10-15T00:00","v":64.3},{"s":"Idaho","d":"2012-11-15T00:00","v":64.2},{"s":"Idaho","d":"2012-12-15T00:00","v":64.1},
{"s":"Idaho","d":"2013-01-15T00:00","v":64.1},{"s":"Idaho","d":"2013-02-15T00:00","v":64.0},{"s":"Idaho","d":"2013-03-15T00:00","v":63.9},{"s":"Idaho","d":"2013-04-15T00:00","v":63.9},{"s":"Idaho","d":"2013-05-15T00:00","v":63.8},{"s":"Idaho","d":"2013-06-15T00:00","v":63.8},{"s":"Idaho","d":"2013-07-15T00:00","v":63.8},{"s":"Idaho","d":"2013-08-15T00:00","v":63.8},{"s":"Idaho","d":"2013-09-15T00:00","v":63.7},{"s":"Idaho","d":"2013-10-15T00:00","v":63.7},{"s":"Idaho","d":"2013-11-15T00:00","v":63.7},{"s":"Idaho","d":"2013-12-15T00:00","v":63.7},
{"s":"Idaho","d":"2014-01-15T00:00","v":63.7},{"s":"Idaho","d":"2014-02-15T00:00","v":63.7},{"s":"Idaho","d":"2014-03-15T00:00","v":63.7},{"s":"Idaho","d":"2014-04-15T00:00","v":63.7},{"s":"Idaho","d":"2014-05-15T00:00","v":63.7},{"s":"Idaho","d":"2014-06-15T00:00","v":63.6},{"s":"Idaho","d":"2014-07-15T00:00","v":63.6},{"s":"Idaho","d":"2014-08-15T00:00","v":63.6},{"s":"Idaho","d":"2014-09-15T00:00","v":63.6},{"s":"Idaho","d":"2014-10-15T00:00","v":63.6},{"s":"Idaho","d":"2014-11-15T00:00","v":63.6},{"s":"Idaho","d":"2014-12-15T00:00","v":63.7},
{"s":"Idaho","d":"2015-01-15T00:00","v":63.5},{"s":"Idaho","d":"2015-02-15T00:00","v":63.6},{"s":"Idaho","d":"2015-03-15T00:00","v":63.7},{"s":"Idaho","d":"2015-04-15T00:00","v":63.8},{"s":"Idaho","d":"2015-05-15T00:00","v":63.8},{"s":"Idaho","d":"2015-06-15T00:00","v":63.9},{"s":"Idaho","d":"2015-07-15T00:00","v":63.9},{"s":"Idaho","d":"2015-08-15T00:00","v":63.9},{"s":"Idaho","d":"2015-09-15T00:00","v":63.9},{"s":"Idaho","d":"2015-10-15T00:00","v":63.9},{"s":"Idaho","d":"2015-11-15T00:00","v":63.9},{"s":"Idaho","d":"2015-12-15T00:00","v":63.9},
{"s":"Idaho","d":"2016-01-15T00:00","v":64.0},{"s":"Idaho","d":"2016-02-15T00:00","v":64.0},{"s":"Idaho","d":"2016-03-15T00:00","v":64.0},{"s":"Idaho","d":"2016-04-15T00:00","v":64.0},{"s":"Idaho","d":"2016-05-15T00:00","v":64.0},{"s":"Idaho","d":"2016-06-15T00:00","v":64.0},{"s":"Idaho","d":"2016-07-15T00:00","v":64.0},{"s":"Idaho","d":"2016-08-15T00:00","v":64.0},{"s":"Idaho","d":"2016-09-15T00:00","v":64.0},{"s":"Idaho","d":"2016-10-15T00:00","v":64.0},{"s":"Idaho","d":"2016-11-15T00:00","v":63.9},{"s":"Idaho","d":"2016-12-15T00:00","v":63.9},
{"s":"Idaho","d":"2017-01-15T00:00","v":63.9},{"s":"Idaho","d":"2017-02-15T00:00","v":63.9},{"s":"Idaho","d":"2017-03-15T00:00","v":63.9},{"s":"Idaho","d":"2017-04-15T00:00","v":63.9},{"s":"Idaho","d":"2017-05-15T00:00","v":63.9},{"s":"Idaho","d":"2017-06-15T00:00","v":63.9},{"s":"Idaho","d":"2017-07-15T00:00","v":63.9},{"s":"Idaho","d":"2017-08-15T00:00","v":64.0},{"s":"Idaho","d":"2017-09-15T00:00","v":64.0},{"s":"Idaho","d":"2017-10-15T00:00","v":64.0},{"s":"Idaho","d":"2017-11-15T00:00","v":64.1},{"s":"Idaho","d":"2017-12-15T00:00","v":64.1},
{"s":"Idaho","d":"2018-01-15T00:00","v":64.1},{"s":"Idaho","d":"2018-02-15T00:00","v":64.1},{"s":"Idaho","d":"2018-03-15T00:00","v":64.2},{"s":"Idaho","d":"2018-04-15T00:00","v":64.2},{"s":"Idaho","d":"2018-05-15T00:00","v":64.2},{"s":"Idaho","d":"2018-06-15T00:00","v":64.2},{"s":"Idaho","d":"2018-07-15T00:00","v":64.2},{"s":"Idaho","d":"2018-08-15T00:00","v":64.2},{"s":"Idaho","d":"2018-09-15T00:00","v":64.2},{"s":"Idaho","d":"2018-10-15T00:00","v":64.3},{"s":"Idaho","d":"2018-11-15T00:00","v":64.3},{"s":"Idaho","d":"2018-12-15T00:00","v":64.3},
{"s":"Idaho","d":"2019-01-15T00:00","v":64.4},{"s":"Idaho","d":"2019-02-15T00:00","v":64.4},{"s":"Idaho","d":"2019-03-15T00:00","v":64.4},{"s":"Idaho","d":"2019-04-15T00:00","v":64.4},{"s":"Idaho","d":"2019-05-15T00:00","v":64.5},{"s":"Idaho","d":"2019-06-15T00:00","v":64.5},{"s":"Idaho","d":"2019-07-15T00:00","v":64.6},{"s":"Idaho","d":"2019-08-15T00:00","v":64.6},{"s":"Idaho","d":"2019-09-15T00:00","v":64.6},{"s":"Idaho","d":"2019-10-15T00:00","v":64.5},{"s":"Idaho","d":"2019-11-15T00:00","v":64.4},{"s":"Idaho","d":"2019-12-15T00:00","v":64.2},
{"s":"Idaho","d":"2020-01-15T00:00","v":64.2},{"s":"Idaho","d":"2020-02-15T00:00","v":64.2},{"s":"Idaho","d":"2020-03-15T00:00","v":64.3},{"s":"Idaho","d":"2020-04-15T00:00","v":63.5},{"s":"Idaho","d":"2020-05-15T00:00","v":63.1},{"s":"Idaho","d":"2020-06-15T00:00","v":63.9},{"s":"Idaho","d":"2020-07-15T00:00","v":64.2},{"s":"Idaho","d":"2020-08-15T00:00","v":63.7},{"s":"Idaho","d":"2020-09-15T00:00","v":65.1},{"s":"Idaho","d":"2020-10-15T00:00","v":64.7},{"s":"Idaho","d":"2020-11-15T00:00","v":64.0}
]
},
"encoding": {
 "x": {"field": "d", "type": "temporal",
   "scale": {"domain": [{"year": 2001, "month": 1, "date": 1}, {"year": 2020, "month": 11, "date": 28}]},
   "axis": {"title": null, "format": "%Y", "grid": false, "labelFlush": false, "labelOverlap": false,
     "values": [{"year": 2001, "month": 1, "date": 1}, {"year": 2003, "month": 1, "date": 1}, {"year": 2005, "month": 1, "date": 1}, {"year": 2007, "month": 1, "date": 1}, {"year": 2009, "month": 1, "date": 1}, {"year": 2011, "month": 1, "date": 1}, {"year": 2013, "month": 1, "date": 1}, {"year": 2015, "month": 1, "date": 1}, {"year": 2017, "month": 1, "date": 1}, {"year": 2019, "month": 1, "date": 1}],
     "domainColor": "#d9d9d9", "domainWidth": 1.5, "tickColor": "#d9d9d9", "tickWidth": 1.5, "tickSize": 14,
     "labelFontSize": 39, "labelPadding": 18, "labelColor": "#000000"}},
 "y": {"field": "v", "type": "quantitative",
   "scale": {"domain": [60, 75], "nice": false, "zero": false},
   "axis": {"title": null, "values": [60, 62, 64, 66, 68, 70, 72, 74], "labelExpr": "datum.value + '%'",
     "grid": true, "gridColor": "#d9d9d9", "gridWidth": 1.5, "ticks": false, "tickSize": 0,
     "domainColor": "#bfbfbf", "domainWidth": 1.5, "labelFontSize": 36, "labelPadding": 43, "labelColor": "#000000"}}
},
"layer": [
 {"data": {"name": "recess"}, "mark": {"type": "rect", "color": "#000000", "opacity": 0.11},
  "encoding": {"x2": {"field": "d2"}, "y": {"datum": 75}, "y2": {"datum": 60}}},
 {"data": {"name": "lfpr"}, "transform": [{"filter": "datum.s !== 'Idaho'"}],
  "mark": {"type": "line", "strokeWidth": 4.5, "strokeJoin": "round"},
  "encoding": {"color": {"field": "s", "type": "nominal",
    "scale": {"domain": ["United States", "Utah", "Idaho"], "range": ["#63a50d", "#1f6093", "#ffd250"]},
    "legend": {"orient": "none", "legendX": 585, "legendY": 693, "direction": "horizontal", "title": null,
      "symbolType": "stroke", "symbolSize": 2025, "symbolStrokeWidth": 5, "labelFontSize": 34, "labelColor": "#000000",
      "labelOffset": 5, "columnPadding": 34, "padding": 0, "labelLimit": 400}}}},
 {"data": {"name": "lfpr"}, "transform": [{"filter": "datum.s === 'Idaho'"}],
  "mark": {"type": "line", "strokeWidth": 3, "strokeJoin": "round"},
  "encoding": {"color": {"field": "s", "type": "nominal"}}},
 {"data": {"name": "boxes"}, "mark": {"type": "rect", "fill": "#ffffff", "stroke": "#000000", "strokeWidth": 1.8},
  "encoding": {"x2": {"field": "d2"}, "y2": {"field": "v2"}}},
 {"data": {"name": "notes"}, "mark": {"type": "text", "align": "center", "baseline": "alphabetic", "fontSize": 38, "color": "#000000"},
  "encoding": {"text": {"field": "t"}}},
 {"data": {"name": "arrows"}, "mark": {"type": "rule", "color": "#000000", "strokeWidth": 1.5},
  "encoding": {"x2": {"field": "d2"}, "y2": {"field": "v2"}}},
 {"data": {"name": "heads"}, "transform": [{"filter": "datum.id === 'ut'"}],
  "mark": {"type": "point", "shape": "M0,0L-0.8,2L0.8,2Z", "size": 100, "filled": true, "color": "#000000", "opacity": 1, "angle": 148}, "encoding": {}},
 {"data": {"name": "heads"}, "transform": [{"filter": "datum.id === 'id'"}],
  "mark": {"type": "point", "shape": "M0,0L-0.8,2L0.8,2Z", "size": 100, "filled": true, "color": "#000000", "opacity": 1, "angle": 153}, "encoding": {}},
 {"data": {"name": "heads"}, "transform": [{"filter": "datum.id === 'us'"}],
  "mark": {"type": "point", "shape": "M0,0L-0.8,2L0.8,2Z", "size": 100, "filled": true, "color": "#000000", "opacity": 1, "angle": 111}, "encoding": {}},
 {"data": {"name": "source"}, "mark": {"type": "text", "align": "left", "baseline": "alphabetic", "fontSize": 21, "color": "#000000"},
  "encoding": {"text": {"field": "t"}}}
]
}
